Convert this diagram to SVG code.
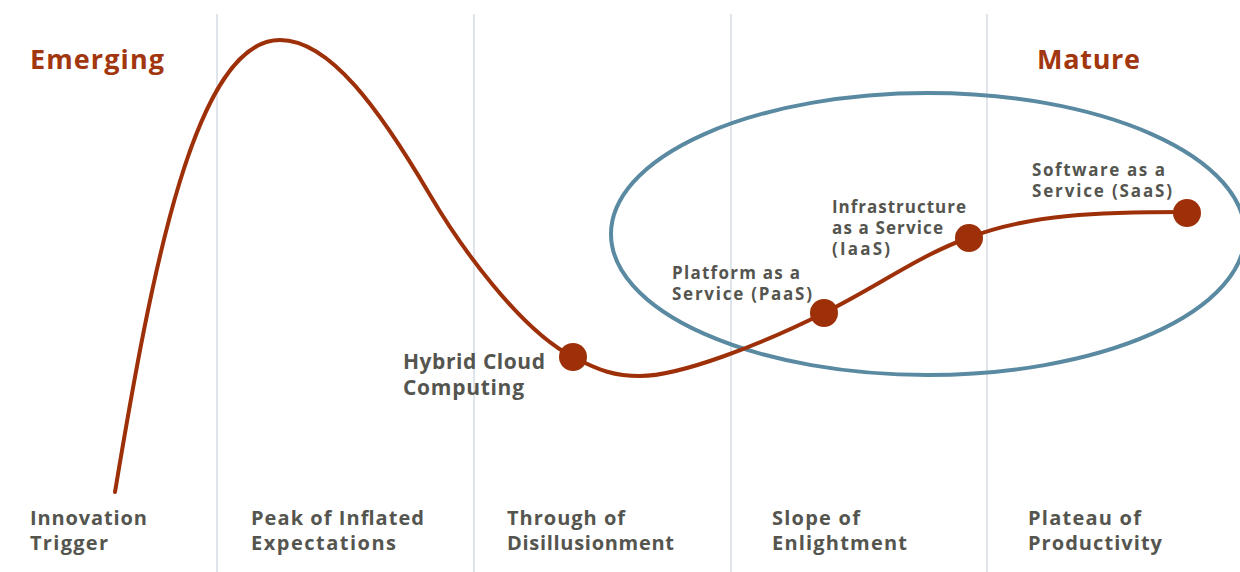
<svg xmlns="http://www.w3.org/2000/svg" width="1240" height="572" viewBox="0 0 1240 572">
<style>
.grid{stroke:#d6dce4;stroke-width:1.5}
.curve{fill:none;stroke:#9e3009;stroke-width:4;stroke-linecap:round}
.dot{fill:#9e3009}
.ell{fill:none;stroke:#5a8aa1;stroke-width:4}
text{font-family:"Open Sans","Liberation Sans",sans-serif;font-weight:700;fill:#55554f}
.phase{font-size:20px}
.lbl{font-size:21px}
.sm{font-size:17px}
.head{font-size:27px;fill:#a1360f}
</style>
<rect width="1240" height="572" fill="#ffffff"/>
<g id="gridlines">
<line class="grid" x1="217" y1="14" x2="217" y2="572"/>
<line class="grid" x1="474" y1="14" x2="474" y2="572"/>
<line class="grid" x1="731" y1="14" x2="731" y2="572"/>
<line class="grid" x1="987" y1="14" x2="987" y2="572"/>
</g>
<g id="headers">
<text class="head" x="30" y="69" textLength="134" lengthAdjust="spacing">Emerging</text>
<text class="head" x="1037" y="69" textLength="103" lengthAdjust="spacing">Mature</text>
</g>
<g id="mature-ellipse"><ellipse class="ell" cx="928" cy="234" rx="317" ry="141"/></g>
<g id="connectors">
<path class="curve" d="M115,492 C152,270 195,40 280,40 C330,40 380,110 430,195 C460,246 520,330 573,357 C600,371 615,376 640,376 C680,376 760,345 824,313 C880,285 920,255 968,238 C1030,214 1100,212 1186,212"/>
</g>
<g id="hybrid"><circle class="dot" cx="573" cy="357" r="14"/><text class="lbl" x="403" y="369" textLength="142" lengthAdjust="spacing">Hybrid Cloud</text><text class="lbl" x="403" y="395" textLength="121" lengthAdjust="spacing">Computing</text></g>
<g id="paas"><circle class="dot" cx="824" cy="313" r="14"/><text class="sm" x="672" y="279" textLength="128" lengthAdjust="spacing">Platform as a</text><text class="sm" x="672" y="300" textLength="140" lengthAdjust="spacing">Service (PaaS)</text></g>
<g id="iaas"><circle class="dot" cx="969" cy="238" r="14"/><text class="sm" x="832" y="213" textLength="134" lengthAdjust="spacing">Infrastructure</text><text class="sm" x="832" y="234" textLength="111" lengthAdjust="spacing">as a Service</text><text class="sm" x="832" y="255" textLength="58" lengthAdjust="spacing">(IaaS)</text></g>
<g id="saas"><circle class="dot" cx="1187" cy="213" r="14"/><text class="sm" x="1032" y="176" textLength="133" lengthAdjust="spacing">Software as a</text><text class="sm" x="1032" y="197" textLength="140" lengthAdjust="spacing">Service (SaaS)</text></g>
<g id="phases">
<text class="phase" x="30" y="525" textLength="117" lengthAdjust="spacing">Innovation</text><text class="phase" x="30" y="550" textLength="78" lengthAdjust="spacing">Trigger</text>
<text class="phase" x="251" y="525" textLength="173" lengthAdjust="spacing">Peak of Inflated</text><text class="phase" x="251" y="550" textLength="145" lengthAdjust="spacing">Expectations</text>
<text class="phase" x="507" y="525" textLength="118" lengthAdjust="spacing">Through of</text><text class="phase" x="507" y="550" textLength="167" lengthAdjust="spacing">Disillusionment</text>
<text class="phase" x="772" y="525" textLength="88" lengthAdjust="spacing">Slope of</text><text class="phase" x="772" y="550" textLength="135" lengthAdjust="spacing">Enlightment</text>
<text class="phase" x="1028" y="525" textLength="113" lengthAdjust="spacing">Plateau of</text><text class="phase" x="1028" y="550" textLength="134" lengthAdjust="spacing">Productivity</text>
</g>
</svg>
